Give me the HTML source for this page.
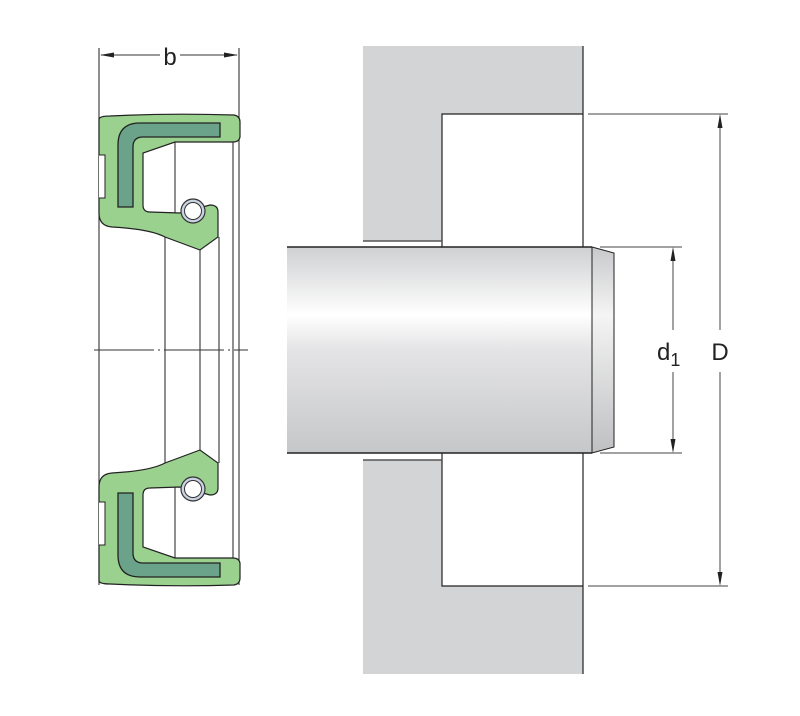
<!DOCTYPE html>
<html><head><meta charset="utf-8"><style>html,body{margin:0;padding:0;background:#fff}svg{display:block}</style></head><body>
<svg width="800" height="716" viewBox="0 0 800 716" xmlns="http://www.w3.org/2000/svg">
<defs>
<linearGradient id="sh" x1="0" y1="0" x2="0" y2="1">
<stop offset="0" stop-color="#cfd0d2"/><stop offset="0.33" stop-color="#ffffff"/><stop offset="0.5" stop-color="#e4e4e6"/><stop offset="1" stop-color="#c6c7c9"/>
</linearGradient>
<linearGradient id="ch" x1="0" y1="0" x2="0" y2="1">
<stop offset="0" stop-color="#c8c9cb"/><stop offset="0.33" stop-color="#f4f4f4"/><stop offset="1" stop-color="#bfc0c2"/>
</linearGradient>
<g id="seal">
<path d="M99,119 Q100,116 110,116 Q170,113 234,115 Q240,116 240,122 L240,137 Q239,142 233,142 L175,142 L143,153 L143,205 Q143,212 150,212 L180,213 L210,205 Q218,205 218,212 L218,237 L200,250 L165,237 Q150,229 112,227 Q99,226 99,213 Z" fill="#9ad18e" stroke="#222" stroke-width="1.2"/>
<path d="M99,155 L105,155 L105,198 L99,198" fill="#fff" stroke="#222" stroke-width="1"/>
<path d="M118,207 L118,145 Q118,123 140,123 L220,123 L220,137 L143,137 Q133,137 133,147 L133,207 Z" fill="#6aa38a" stroke="#222" stroke-width="1.3"/>
<circle cx="193" cy="211" r="12" fill="#c8d2e0" stroke="#333" stroke-width="1.2"/>
<circle cx="193" cy="211" r="8.5" fill="#fff" stroke="#333" stroke-width="1"/>
</g>
</defs>
<!-- seal vertical lines -->
<g stroke="#333" stroke-width="1.1">
<line x1="99" y1="48" x2="99" y2="585"/>
<line x1="239" y1="48" x2="239" y2="585"/>
<line x1="233" y1="142" x2="233" y2="558"/>
<line x1="175" y1="142" x2="175" y2="237"/>
<line x1="175" y1="463" x2="175" y2="558"/>
<line x1="165" y1="237" x2="165" y2="463"/>
<line x1="200" y1="250" x2="200" y2="450"/>
<line x1="219" y1="237" x2="219" y2="463"/>
</g>
<use href="#seal"/>
<use href="#seal" transform="translate(0,700) scale(1,-1)"/>
<line x1="94" y1="350" x2="248" y2="350" stroke="#333" stroke-width="1" stroke-dasharray="60,4,2,4"/>
<!-- b dimension -->
<line x1="101" y1="55" x2="160" y2="55" stroke="#333" stroke-width="1"/>
<line x1="180" y1="55" x2="237" y2="55" stroke="#333" stroke-width="1"/>
<path d="M100,55 L114,52.5 L114,57.5 Z M238,55 L224,52.5 L224,57.5 Z" fill="#222"/>
<text x="170" y="65" font-family="Liberation Sans, sans-serif" font-size="24" text-anchor="middle" fill="#222">b</text>
<!-- housing -->
<rect x="363" y="46" width="220" height="195" fill="#d3d4d6"/>
<rect x="363" y="460" width="220" height="214" fill="#d3d4d6"/>
<rect x="442" y="114" width="141" height="133" fill="#fff"/>
<rect x="442" y="453" width="141" height="133" fill="#fff"/>
<g stroke="#222" stroke-width="1.2" fill="none">
<path d="M583,46 L583,247 M442,247 L442,114 L583,114"/>
<path d="M583,674 L583,453 M442,453 L442,586 L583,586"/>
</g>
<line x1="363" y1="241" x2="442" y2="241" stroke="#555" stroke-width="1.5"/>
<line x1="363" y1="460" x2="442" y2="460" stroke="#555" stroke-width="1.5"/>
<!-- shaft -->
<rect x="287" y="247" width="305" height="206" fill="url(#sh)"/>
<path d="M592,247 L614,253 L614,447 L592,453 Z" fill="url(#ch)" stroke="#222" stroke-width="1"/>
<line x1="287" y1="247" x2="592" y2="247" stroke="#222" stroke-width="1.5"/>
<line x1="287" y1="453" x2="592" y2="453" stroke="#222" stroke-width="1.5"/>
<!-- dims -->
<g stroke="#444" stroke-width="1">
<line x1="588" y1="114" x2="728" y2="114"/>
<line x1="588" y1="586" x2="728" y2="586"/>
<line x1="600" y1="247" x2="682" y2="247"/>
<line x1="600" y1="453" x2="682" y2="453"/>
<line x1="720" y1="116" x2="720" y2="330"/>
<line x1="720" y1="372" x2="720" y2="584"/>
<line x1="673" y1="249" x2="673" y2="330"/>
<line x1="673" y1="372" x2="673" y2="451"/>
</g>
<path d="M720,114 L717.5,128 L722.5,128 Z M720,586 L717.5,572 L722.5,572 Z M673,247 L670.5,261 L675.5,261 Z M673,453 L670.5,439 L675.5,439 Z" fill="#222"/>
<text x="657" y="360" font-family="Liberation Sans, sans-serif" font-size="24" fill="#222">d<tspan font-size="18" dy="6">1</tspan></text>
<text x="720" y="360" font-family="Liberation Sans, sans-serif" font-size="24" text-anchor="middle" fill="#222">D</text>
</svg>
</body></html>
